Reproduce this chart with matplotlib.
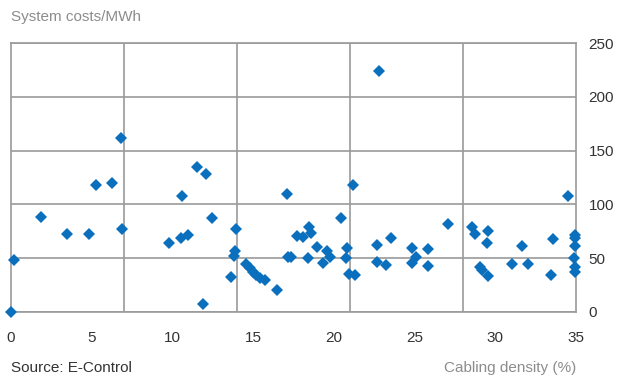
import numpy as np
import matplotlib.pyplot as plt

plt.rcParams['font.family'] = ['Liberation Sans', 'DejaVu Sans']

# cabling density (%) and system costs per MWh
density = [0.0, 0.2, 1.86, 3.47, 4.81, 5.27, 6.26, 6.8, 6.9,
           9.79, 10.53, 10.6, 10.95, 11.54, 11.88, 12.06, 12.45,
           13.6, 13.8, 13.88, 13.94, 14.56, 14.8, 15.0, 15.2, 15.43, 15.74,
           16.46, 17.1, 17.18, 17.35, 17.74, 18.07, 18.42, 18.48, 18.6,
           18.94, 19.3, 19.56, 19.77, 20.45, 20.74, 20.8, 20.96, 21.17, 21.31,
           22.66, 22.66, 22.82, 23.2, 23.54, 24.84, 24.84, 25.09,
           25.86, 25.86, 27.05, 28.54, 28.75, 29.06, 29.16, 29.47, 29.53,
           29.57, 31.02, 31.68, 32.05, 33.46, 33.6, 34.49,
           34.88, 34.94, 34.94, 34.94, 34.94, 34.94]
cost = [0, 48, 88, 72.7, 72.7, 118, 120, 161.6, 76.8,
        64, 68.4, 107.7, 71.2, 134.6, 7.4, 127.8, 87.6,
        32.8, 52, 57, 76.8, 44.6, 40.6, 37.4, 34.4, 31.3, 29.7,
        20.1, 109.5, 50.8, 51.4, 70.9, 70, 49.8, 79.2, 73.6,
        60, 45.8, 57, 51.4, 87, 49.8, 59.1, 35, 117.6, 34.4,
        62.2, 46.7, 224, 44, 68.4, 59.7, 45.8, 50.8,
        58.5, 42.7, 82, 79.2, 72.4, 42.1, 39, 64.4, 75.2,
        33.4, 44.3, 61.3, 44.6, 34, 68, 107.7,
        49.8, 71.5, 68.4, 61.3, 42.1, 36.8]

x_labels = [0, 5, 10, 15, 20, 25, 30, 35]
y_labels = [0, 50, 100, 150, 200, 250]

fig = plt.figure(figsize=(6.25, 3.79), dpi=100)
ax = fig.add_axes([0.0176, 0.1768, 0.904, 0.7097])

grid_col = '#9a9a9a'
ax.plot(density, cost, 'D', color='#0a6fbd', markersize=6.2,
        markeredgewidth=0, clip_on=False, zorder=3)

ax.set_xlim(0, 35)
ax.set_ylim(0, 250)

# labels every 5, vertical grid lines every 7
ax.set_xticks(x_labels)
ax.set_xticks([7, 14, 21, 28], minor=True)
ax.set_yticks(y_labels)
ax.grid(False)
ax.grid(True, which='minor', axis='x', color=grid_col, linewidth=1.2)
ax.grid(True, which='major', axis='y', color=grid_col, linewidth=1.2)
ax.set_axisbelow(True)

ax.yaxis.tick_right()
ax.tick_params(which='both', length=0)
ax.tick_params(axis='x', pad=14, labelsize=11, labelcolor='#333333')
ax.tick_params(axis='y', pad=9, labelsize=11, labelcolor='#333333')

for s in ax.spines.values():
    s.set_color(grid_col)
    s.set_linewidth(1.2)

fig.text(0.0176, 0.955, 'System costs/MWh', color='#8c8c8c', fontsize=11,
         ha='left', va='center')
fig.text(0.0176, 0.03, 'Source: E-Control', color='#333333', fontsize=11,
         ha='left', va='center')
fig.text(0.9216, 0.03, 'Cabling density (%)', color='#8c8c8c', fontsize=11,
         ha='right', va='center')

plt.savefig('out.png', dpi=100)
